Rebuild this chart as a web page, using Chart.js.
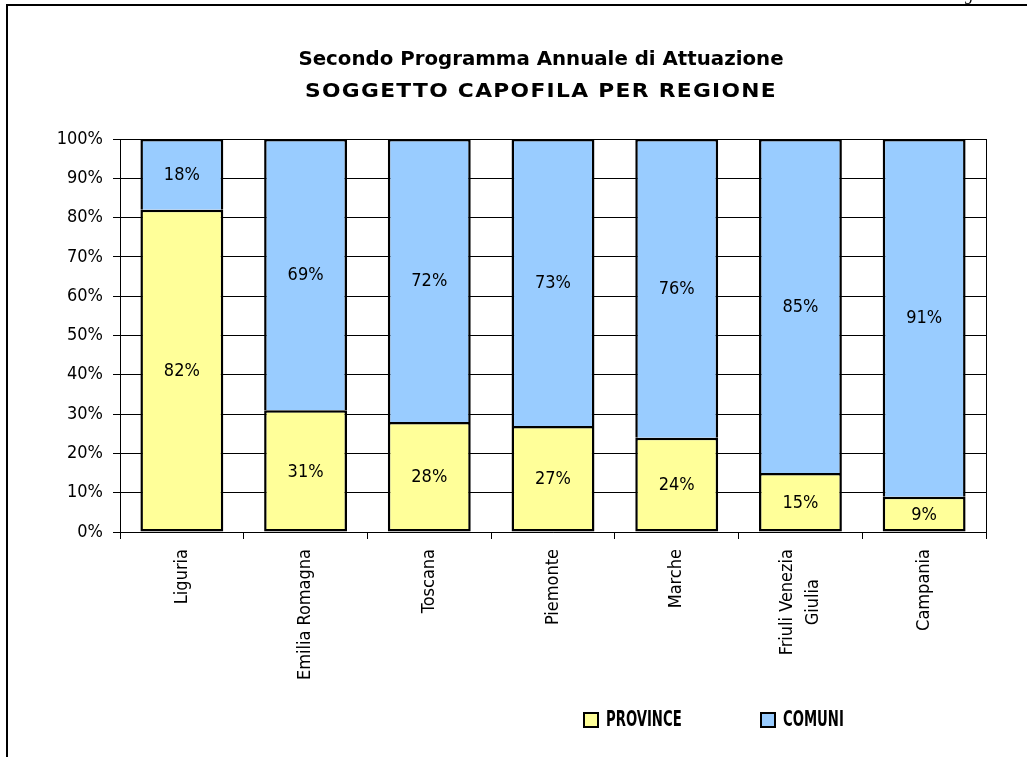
<!DOCTYPE html>
<html>
<head>
<meta charset="utf-8">
<script src="https://cdn.jsdelivr.net/npm/chart.js@4"></script>
<style>
  html, body { margin: 0; padding: 0; background: #fff; overflow: hidden; }
  #wrap { position: relative; width: 1027px; height: 757px; }
  #frame { position: absolute; left: 6px; top: 4px; right: 0; bottom: 0; border-left: 2px solid #000; border-top: 2px solid #000; pointer-events: none; }
  #pg { position: absolute; left: 965px; top: -15px; font: italic 17px 'Liberation Serif', serif; color: #000; }
</style>
</head>
<body>
<div id="wrap">
  <canvas id="c" width="1027" height="757"></canvas>
  <div id="frame"></div>
  <div id="pg">g</div>
</div>
<script>
const categories = ['Liguria', 'Emilia Romagna', 'Toscana', 'Piemonte', 'Marche', ['Friuli Venezia', 'Giulia'], 'Campania'];
const province = [82, 31, 28, 27, 24, 15, 9];
const comuni = [18, 69, 72, 73, 76, 85, 91];
const seriesNames = ['PROVINCE', 'COMUNI'];
const titleLines = ['Secondo Programma Annuale di Attuazione', 'SOGGETTO CAPOFILA PER REGIONE'];
const yTicks = [0, 10, 20, 30, 40, 50, 60, 70, 80, 90, 100];

const NARROW = "'Liberation Sans Narrow', 'Arial Narrow', 'DejaVu Sans Condensed', sans-serif";

const titlePlugin = {
  id: 'titlePlugin',
  afterDraw(chart) {
    const ctx = chart.ctx;
    const cx = 541;
    const ys = [60, 92];
    const stretch = [1, 1.1];
    const spacing = ['0px', '1.2px'];
    ctx.save();
    ctx.font = "bold 19.8px 'DejaVu Sans', sans-serif";
    ctx.fillStyle = '#000';
    ctx.textAlign = 'center';
    ctx.textBaseline = 'middle';
    titleLines.forEach((t, i) => {
      ctx.save();
      if ('letterSpacing' in ctx) ctx.letterSpacing = spacing[i];
      ctx.translate(cx, ys[i]);
      ctx.scale(stretch[i], 1);
      ctx.fillText(t, 0, 0);
      ctx.restore();
    });
    ctx.restore();
  }
};

const barLabels = {
  id: 'barLabels',
  afterDatasetsDraw(chart) {
    const ctx = chart.ctx;
    ctx.save();
    ctx.font = '18px ' + NARROW;
    ctx.fillStyle = '#000';
    ctx.textAlign = 'center';
    ctx.textBaseline = 'middle';
    chart.data.datasets.forEach((ds, di) => {
      const meta = chart.getDatasetMeta(di);
      meta.data.forEach((el, i) => {
        const p = el.getProps(['x', 'y', 'base'], true);
        ctx.fillText(ds.data[i] + '%', p.x, (p.y + p.base) / 2 + 1);
      });
    });
    ctx.restore();
  }
};

// Category labels: rotated, block right-aligned to the axis, lines centred within block
const xLabels = {
  id: 'xLabels',
  afterDraw(chart) {
    const ctx = chart.ctx;
    const xs = chart.scales.x;
    const lh = 26;
    ctx.save();
    ctx.font = '18px ' + NARROW;
    ctx.fillStyle = '#000';
    ctx.textAlign = 'center';
    ctx.textBaseline = 'middle';
    const y0 = xs.top + 17;
    chart.data.labels.forEach((lab, i) => {
      const lines = Array.isArray(lab) ? lab : [lab];
      const w = Math.max(...lines.map(l => ctx.measureText(l).width));
      const cx = xs.getPixelForTick(i);
      lines.forEach((l, k) => {
        const px = cx + (k - (lines.length - 1) / 2) * lh;
        ctx.save();
        ctx.translate(px, y0 + w / 2);
        ctx.rotate(-Math.PI / 2);
        ctx.fillText(l, 0, 0);
        ctx.restore();
      });
    });
    ctx.restore();
  }
};

const customLegend = {
  id: 'customLegend',
  afterDraw(chart) {
    const ctx = chart.ctx;
    const xs = [583, 760];
    const top = 712, size = 16;
    ctx.save();
    chart.data.datasets.forEach((ds, i) => {
      const x = xs[i];
      ctx.fillStyle = ds.backgroundColor;
      ctx.fillRect(x, top, size, size);
      ctx.lineWidth = 2;
      ctx.strokeStyle = '#000';
      ctx.strokeRect(x + 1, top + 1, size - 2, size - 2);
      ctx.save();
      ctx.translate(x + size + 7, top + size / 2 + 1);
      ctx.scale(0.70, 1);
      ctx.font = 'bold 21px ' + NARROW;
      ctx.fillStyle = '#000';
      ctx.textAlign = 'left';
      ctx.textBaseline = 'middle';
      ctx.fillText(ds.label, 0, 0);
      ctx.restore();
    });
    ctx.restore();
  }
};

new Chart(document.getElementById('c'), {
  type: 'bar',
  data: {
    labels: categories,
    datasets: [
      { label: seriesNames[0], data: province, backgroundColor: '#FFFF99', borderColor: '#000', inflateAmount: 0,
        borderWidth: { top: 2.5, left: 2.5, right: 2.5, bottom: 2.5 }, borderSkipped: false, categoryPercentage: 1, barPercentage: 0.67 },
      { label: seriesNames[1], data: comuni, backgroundColor: '#99CCFF', borderColor: '#000', inflateAmount: 0,
        borderWidth: { top: 2.5, left: 2.5, right: 2.5, bottom: 0 }, borderSkipped: false, categoryPercentage: 1, barPercentage: 0.67 }
    ]
  },
  options: {
    responsive: false,
    animation: false,
    events: [],
    layout: { padding: { left: 55, right: 0, top: 139, bottom: 0 } },
    plugins: {
      legend: { display: false },
      tooltip: { enabled: false },
      title: { display: false }
    },
    scales: {
      x: {
        stacked: true,
        offset: true,
        grid: { display: true, drawOnChartArea: false, drawTicks: true, tickLength: 7, color: '#000', offset: true },
        border: { display: true, color: '#000', width: 1 },
        ticks: { display: false },
        afterFit(s) { s.height = 225; }
      },
      y: {
        stacked: true,
        min: 0, max: 100,
        afterBuildTicks(s) { s.ticks = yTicks.map(v => ({ value: v })); },
        grid: { color: '#000', lineWidth: 1, tickLength: 7, drawTicks: true },
        border: { display: true, color: '#000', width: 1 },
        ticks: { color: '#000', font: { family: NARROW, size: 18 }, padding: 10, callback: v => v + '%' },
        afterFit(s) { s.width = 65; }
      },
      y2: {
        position: 'right',
        display: true,
        grid: { display: false },
        border: { display: true, color: '#000', width: 1 },
        ticks: { display: false },
        afterFit(s) { s.width = 41; }
      }
    }
  },
  plugins: [titlePlugin, barLabels, xLabels, customLegend]
});
</script>
</body>
</html>
